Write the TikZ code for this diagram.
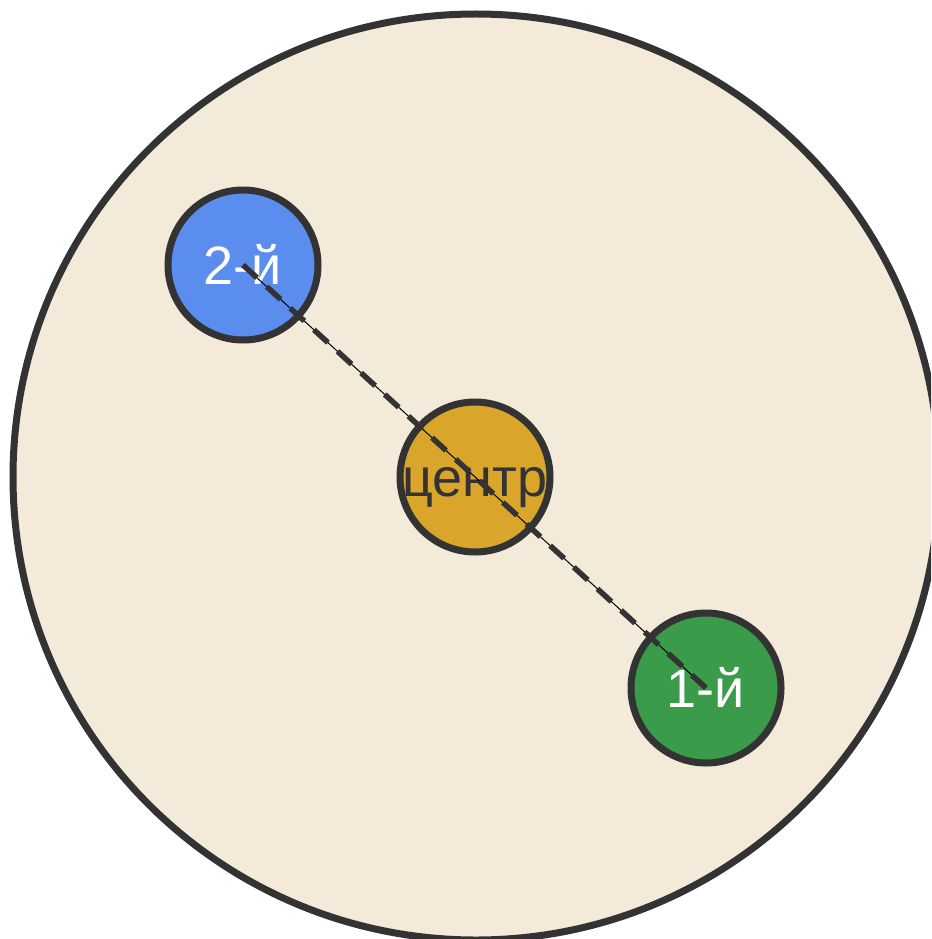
\documentclass[tikz,border=0pt]{standalone}
\usepackage{fontspec}
\setmainfont{Liberation Sans}
\usepackage{tikz}

\definecolor{plate}{HTML}{F3EAD9}
\definecolor{rim}{HTML}{333333}
\definecolor{bluebody}{HTML}{5B8DEF}
\definecolor{goldbody}{HTML}{D9A52B}
\definecolor{greenbody}{HTML}{3A9B4A}

\begin{document}
\begin{tikzpicture}[x=1pt, y=-1pt,
        body/.style={circle, draw=rim, line width=7pt, minimum size=150pt, inner sep=0pt,
            text height=38pt, text depth=0pt, font=\fontsize{54}{60}\selectfont},
        axis/.style={rim, line width=5.5pt, dash pattern=on 19pt off 13pt}]
        \useasboundingbox (0,0) rectangle (931,939);
        \clip (0,0) rectangle (931,939);

        \draw[fill=plate, draw=rim, line width=7pt] (476,477) circle (463);

        \node[body, fill=bluebody, text=white] (second) at (243,265) {2-й};
        \node[body, fill=goldbody, text=rim] (centre) at (475,477) {центр};
        \node[body, fill=greenbody, text=white] (first) at (706,688) {1-й};

        \draw[black, line width=1pt] (second.center) -- (first.center);
        \draw[axis] (second.center) -- (first.center);
\end{tikzpicture}
\end{document}
